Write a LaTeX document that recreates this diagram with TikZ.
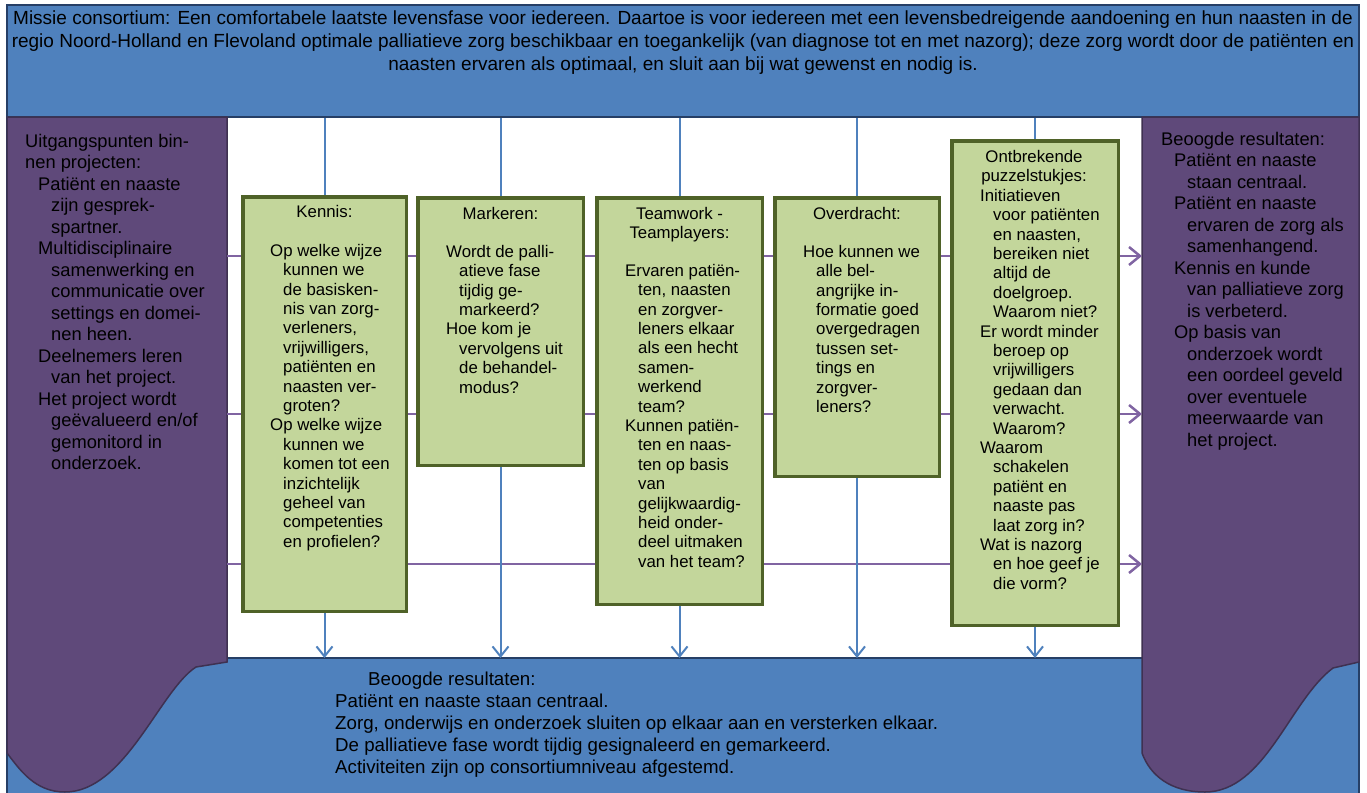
\documentclass[tikz,border=0pt]{standalone}
\usepackage{fontspec}
\setmainfont{Liberation Sans}
\usepackage{xcolor}
\usetikzlibrary{arrows.meta, positioning, calc}

\definecolor{frameblue}{HTML}{4F81BD}
\definecolor{framedark}{HTML}{263F66}
\definecolor{panelpurple}{HTML}{5F497A}
\definecolor{paneldark}{HTML}{3F3151}
\definecolor{boxgreen}{HTML}{C3D69B}
\definecolor{boxdark}{HTML}{4F6228}
\definecolor{lineblue}{HTML}{4F81BD}
\definecolor{linepurple}{HTML}{8064A2}

\newcommand{\hangA}{\hspace*{13pt}}
\newcommand{\hangB}{\hspace*{26pt}}

\begin{document}
\begin{tikzpicture}[x=1pt, y=-1pt,
    greenbox/.style={draw=boxdark, line width=3.5pt, fill=boxgreen, inner sep=0pt},
    sidetext/.style={align=left, inner sep=0pt, anchor=north west, font={\fontsize{18.3}{21.5}\selectfont}},
    boxtext/.style={align=left, inner sep=0pt, anchor=north west, font={\fontsize{16.8}{19.4}\selectfont}},
    boxtitle/.style={align=center, inner sep=0pt, anchor=north, font={\fontsize{16.8}{19.4}\selectfont}},
    feed/.style={draw=lineblue, line width=2pt},
    down/.style={draw=lineblue, line width=2pt, -{Straight Barb[length=10pt, width=16pt]}},
    across/.style={draw=linepurple, line width=2.5pt, -{Straight Barb[length=11pt, width=18pt]}},
    panel/.style={fill=panelpurple, draw=paneldark, line width=1.5pt}]

    \useasboundingbox (0,0) rectangle (1367,792);
    \fill[white] (0,0) rectangle (1367,792);

    % frame and work area
    \filldraw[fill=frameblue, draw=framedark, line width=1.5pt] (7,5) rectangle (1359,800);
    \fill[white] (227,117) rectangle (1142,658);
    \coordinate (resultsline) at (227,658);
    \draw[framedark, line width=1.5pt] (resultsline) -- (1142,658);

    \node[draw=framedark, fill=frameblue, line width=1.5pt, minimum width=1352pt, minimum height=112pt, inner sep=0pt] (mission) at (683,61) {};
    \node[align=center, inner sep=0pt, anchor=north, font={\fontsize{19}{23}\selectfont}] (missiontext) at (683,11) {Missie consortium: Een comfortabele laatste levensfase voor iedereen. Daartoe is voor iedereen met een levensbedreigende aandoening en hun naasten in de\\
        regio Noord-Holland en Flevoland optimale palliatieve zorg beschikbaar en toegankelijk (van diagnose tot en met nazorg); deze zorg wordt door de patiënten en\\
        naasten ervaren als optimaal, en sluit aan bij wat gewenst en nodig is.};

    % side panels
    \filldraw[panel] (7,117) -- (227,117) -- (227,662) -- (196,667)
        .. controls (160,690) and (125,792) .. (65,792)
        .. controls (35,792) and (20,770) .. (7,753) -- cycle;
    \filldraw[panel] (1142,117) -- (1359,117) -- (1359,662) -- (1333,668)
        .. controls (1290,700) and (1265,792) .. (1205,792)
        .. controls (1170,792) and (1150,775) .. (1142,753) -- cycle;

    % purple flows
    \coordinate (westA) at (227,256);
    \coordinate (eastA) at (1142,256);
    \coordinate (westB) at (227,414);
    \coordinate (eastB) at (1142,414);
    \coordinate (westC) at (227,564);
    \coordinate (eastC) at (1142,564);
    \draw[across] (westA) -- (eastA);
    \draw[across] (westB) -- (eastB);
    \draw[across] (westC) -- (eastC);

    % green boxes
    \node[greenbox, minimum width=163.5pt, minimum height=414.5pt] (kennis) at (324.5,404) {};
    \node[greenbox, minimum width=165.5pt, minimum height=267.5pt] (markeren) at (500.5,331.5) {};
    \node[greenbox, minimum width=165.5pt, minimum height=406.5pt] (teamwork) at (679.5,401) {};
    \node[greenbox, minimum width=164.5pt, minimum height=278.5pt] (overdracht) at (857,337) {};
    \node[greenbox, minimum width=166.5pt, minimum height=484.5pt] (puzzel) at (1035,383) {};

    % blue feeds
    \draw[feed] (kennis.north |- mission.south) -- (kennis.north);
    \draw[feed] (markeren.north |- mission.south) -- (markeren.north);
    \draw[feed] (teamwork.north |- mission.south) -- (teamwork.north);
    \draw[feed] (overdracht.north |- mission.south) -- (overdracht.north);
    \draw[feed] (puzzel.north |- mission.south) -- (puzzel.north);
    \draw[down] (kennis.south) -- (kennis.south |- resultsline);
    \draw[down] (markeren.south) -- (markeren.south |- resultsline);
    \draw[down] (teamwork.south) -- (teamwork.south |- resultsline);
    \draw[down] (overdracht.south) -- (overdracht.south |- resultsline);
    \draw[down] (puzzel.south) -- (puzzel.south |- resultsline);

    % texts
    \node[sidetext] (uitgangspunten) at (25,134) {Uitgangspunten bin-\\
        nen projecten:\\
        \hangA Patiënt en naaste\\
        \hangB zijn gesprek-\\
        \hangB spartner.\\
        \hangA Multidisciplinaire\\
        \hangB samenwerking en\\
        \hangB communicatie over\\
        \hangB settings en domei-\\
        \hangB nen heen.\\
        \hangA Deelnemers leren\\
        \hangB van het project.\\
        \hangA Het project wordt\\
        \hangB geëvalueerd en/of\\
        \hangB gemonitord in\\
        \hangB onderzoek.};

    \node[sidetext] (resultatenrechts) at (1161,132) {Beoogde resultaten:\\
        \hangA Patiënt en naaste\\
        \hangB staan centraal.\\
        \hangA Patiënt en naaste\\
        \hangB ervaren de zorg als\\
        \hangB samenhangend.\\
        \hangA Kennis en kunde\\
        \hangB van palliatieve zorg\\
        \hangB is verbeterd.\\
        \hangA Op basis van\\
        \hangB onderzoek wordt\\
        \hangB een oordeel geveld\\
        \hangB over eventuele\\
        \hangB meerwaarde van\\
        \hangB het project.};

    \node[boxtitle] (kennistitle) at (324.5,205) {Kennis:};
    \node[boxtext] (kennistext) at (270,244) {Op welke wijze\\
        \hangA kunnen we\\
        \hangA de basisken-\\
        \hangA nis van zorg-\\
        \hangA verleners,\\
        \hangA vrijwilligers,\\
        \hangA patiënten en\\
        \hangA naasten ver-\\
        \hangA groten?\\
        Op welke wijze\\
        \hangA kunnen we\\
        \hangA komen tot een\\
        \hangA inzichtelijk\\
        \hangA geheel van\\
        \hangA competenties\\
        \hangA en profielen?};

    \node[boxtitle] (markerentitle) at (500.5,207) {Markeren:};
    \node[boxtext] (markerentext) at (446,245) {Wordt de palli-\\
        \hangA atieve fase\\
        \hangA tijdig ge-\\
        \hangA markeerd?\\
        Hoe kom je\\
        \hangA vervolgens uit\\
        \hangA de behandel-\\
        \hangA modus?};

    \node[boxtitle] (teamworktitle) at (679.5,207) {Teamwork -\\Teamplayers:};
    \node[boxtext] (teamworktext) at (625,264) {Ervaren patiën-\\
        \hangA ten, naasten\\
        \hangA en zorgver-\\
        \hangA leners elkaar\\
        \hangA als een hecht\\
        \hangA samen-\\
        \hangA werkend\\
        \hangA team?\\
        Kunnen patiën-\\
        \hangA ten en naas-\\
        \hangA ten op basis\\
        \hangA van\\
        \hangA gelijkwaardig-\\
        \hangA heid onder-\\
        \hangA deel uitmaken\\
        \hangA van het team?};

    \node[boxtitle] (overdrachttitle) at (857,207) {Overdracht:};
    \node[boxtext] (overdrachttext) at (803,245) {Hoe kunnen we\\
        \hangA alle bel-\\
        \hangA angrijke in-\\
        \hangA formatie goed\\
        \hangA overgedragen\\
        \hangA tussen set-\\
        \hangA tings en\\
        \hangA zorgver-\\
        \hangA leners?};

    \node[boxtitle] (puzzeltitle) at (1034,150) {Ontbrekende\\puzzelstukjes:};
    \node[boxtext] (puzzeltext) at (980,189) {Initiatieven\\
        \hangA voor patiënten\\
        \hangA en naasten,\\
        \hangA bereiken niet\\
        \hangA altijd de\\
        \hangA doelgroep.\\
        \hangA Waarom niet?\\
        Er wordt minder\\
        \hangA beroep op\\
        \hangA vrijwilligers\\
        \hangA gedaan dan\\
        \hangA verwacht.\\
        \hangA Waarom?\\
        Waarom\\
        \hangA schakelen\\
        \hangA patiënt en\\
        \hangA naaste pas\\
        \hangA laat zorg in?\\
        Wat is nazorg\\
        \hangA en hoe geef je\\
        \hangA die vorm?};

    \node[align=left, inner sep=0pt, anchor=north west, font={\fontsize{18.7}{22}\selectfont}] (resultatenonder) at (335,672) {\hspace*{33pt}Beoogde resultaten:\\
        Patiënt en naaste staan centraal.\\
        Zorg, onderwijs en onderzoek sluiten op elkaar aan en versterken elkaar.\\
        De palliatieve fase wordt tijdig gesignaleerd en gemarkeerd.\\
        Activiteiten zijn op consortiumniveau afgestemd.};
\end{tikzpicture}
\end{document}
